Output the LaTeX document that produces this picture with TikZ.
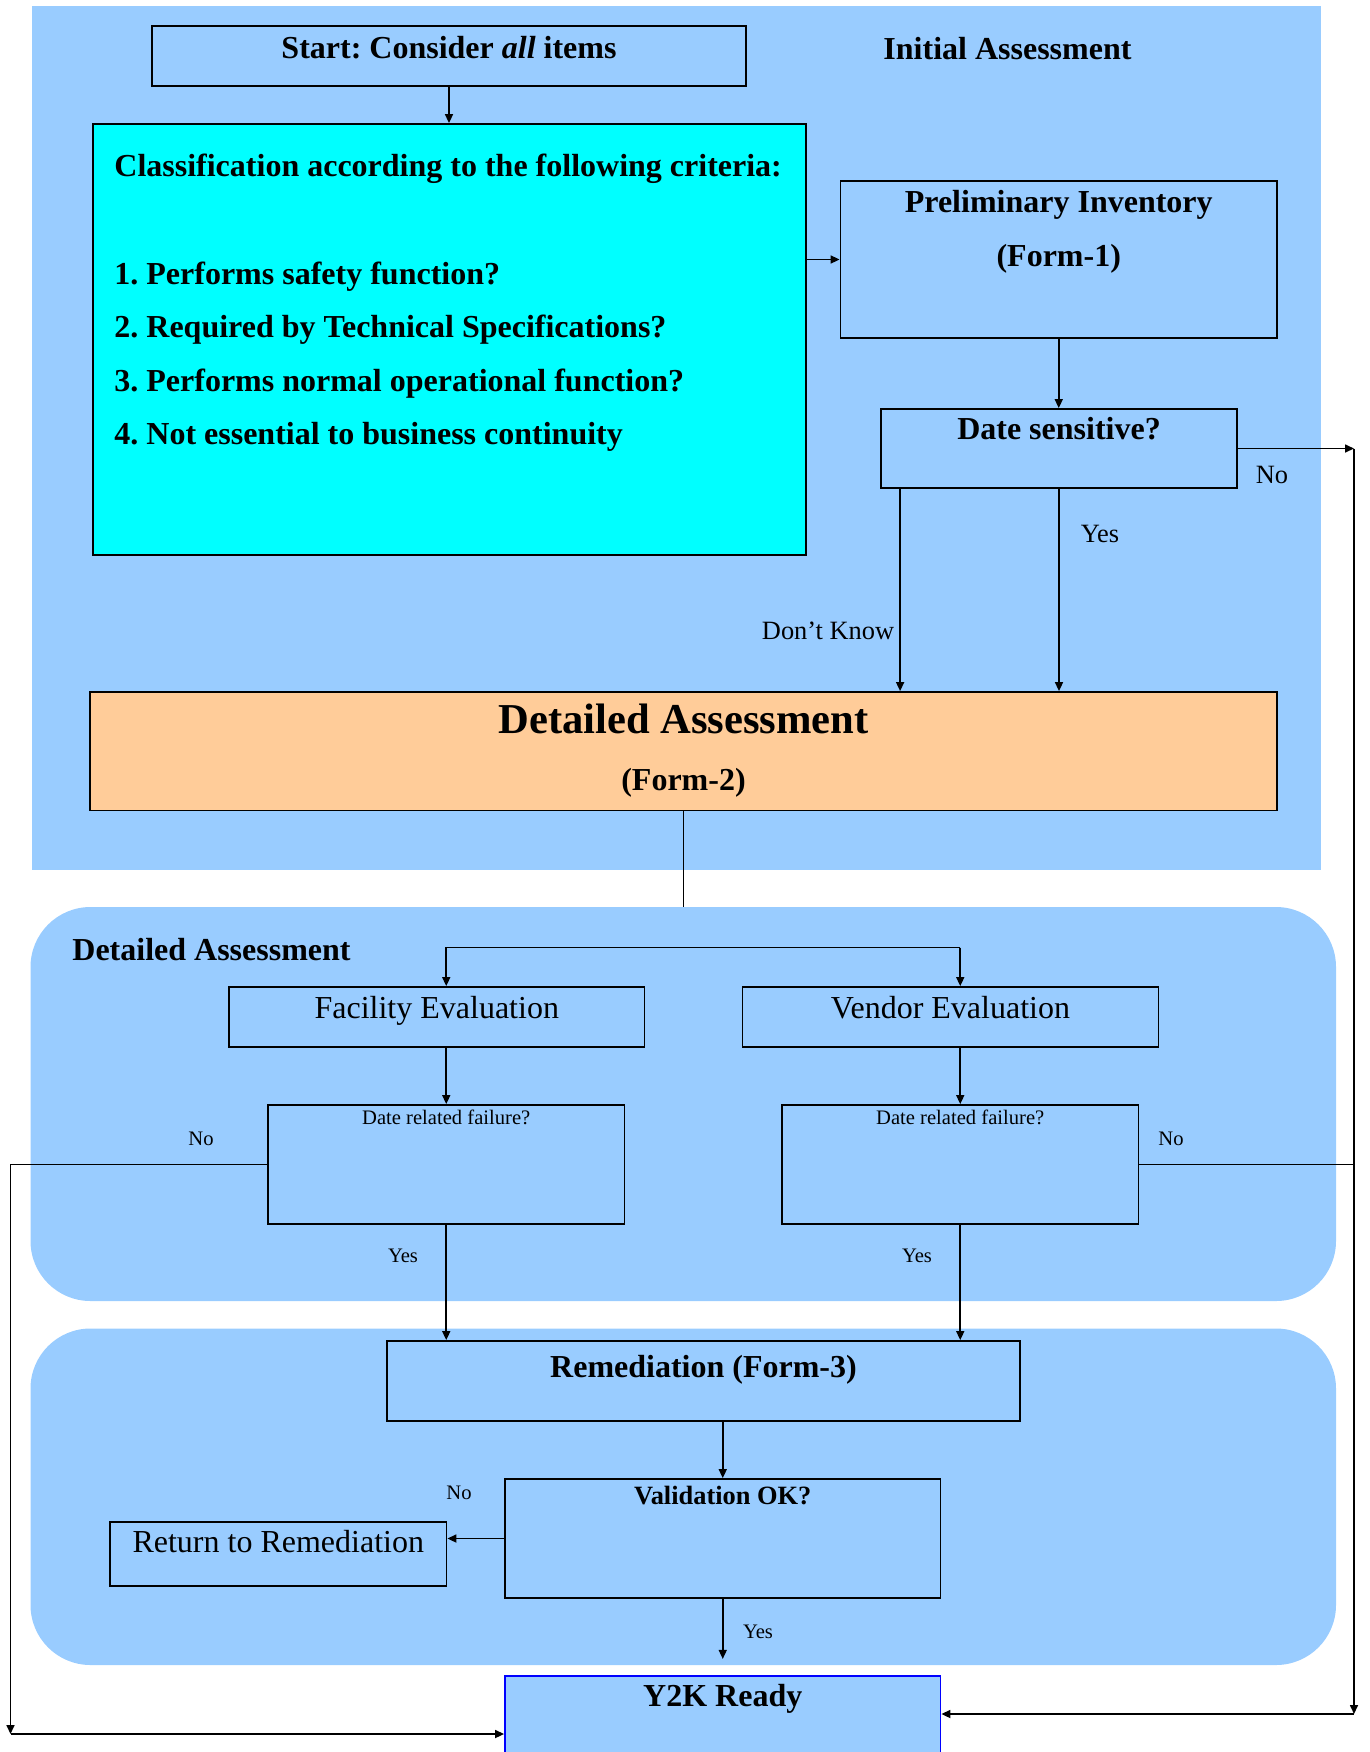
\documentclass[tikz,border=0pt]{standalone}
\usepackage{fontspec}
\setmainfont{Liberation Serif}
\usepackage{tikz}
\usetikzlibrary{arrows.meta}
\frenchspacing

\definecolor{panelblue}{HTML}{99CCFF}
\definecolor{critcyan}{HTML}{00FFFF}
\definecolor{formorange}{HTML}{FFCC99}
\definecolor{readyblue}{HTML}{0000FF}

\begin{document}
\begin{tikzpicture}[
    x=0.5pt,
    y=-0.5pt,
    >={Triangle[length=4.5pt,width=4pt]},
    line width=0.8pt,
    box/.style={draw, fill=panelblue, inner sep=0pt, line width=0.9pt},
    inlabel/.style={anchor=base, inner sep=0pt},
    freetext/.style={inner sep=0pt},
    bftext/.style={font=\fontsize{16}{19}\selectfont\bfseries},
    rmtext/.style={font=\fontsize{16}{19}\selectfont},
    midtext/.style={font=\fontsize{13.2}{16}\selectfont},
    smalltext/.style={font=\fontsize{10.3}{12}\selectfont},
    hugetext/.style={font=\fontsize{21.3}{25}\selectfont\bfseries}
]

\useasboundingbox (0,0) rectangle (1370,1752);
\clip (0,0) rectangle (1370,1752);

%------------------------------------------------------------
% Panels
%------------------------------------------------------------

\fill[panelblue]
(32,6) rectangle (1321,870);

\fill[panelblue,rounded corners=30pt]
(30.5,907) rectangle (1336,1301);

\fill[panelblue,rounded corners=30pt]
(30.5,1328.5) rectangle (1336,1665);

%------------------------------------------------------------
% Initial assessment
%------------------------------------------------------------

\node[bftext,freetext,anchor=base]
(initial) at (1007.5,59.3)
{Initial Assessment};

\node[
    box,
    minimum width=297pt,
    minimum height=30pt,
    label={[inlabel,bftext,yshift=-16.75pt]north:{Start: Consider \textit{all} items}}
]
(start) at (449,56) {};

\node[
    box,
    fill=critcyan,
    minimum width=356.5pt,
    minimum height=215.5pt
]
(class) at (449.5,339.5) {};

% criteria
\node[bftext,freetext,anchor=base west]
(crit0) at (113.6,176)
{Classification according to the following criteria:};

\node[bftext,freetext,anchor=base west]
(crit1) at (113.6,284)
{1. Performs safety function?};

\node[bftext,freetext,anchor=base west]
(crit2) at (113.6,337.5)
{2. Required by Technical Specifications?};

\node[bftext,freetext,anchor=base west]
(crit3) at (113.6,391)
{3. Performs normal operational function?};

\node[bftext,freetext,anchor=base west]
(crit4) at (113.6,444.7)
{4. Not essential to business continuity};

\node[
    box,
    minimum width=218.25pt,
    minimum height=78.5pt,
    label={[inlabel,bftext,yshift=-16pt]north:{Preliminary Inventory}},
    label={[inlabel,bftext,yshift=-43pt]north:{(Form-1)}}
]
(prelim) at (1058.75,259.5) {};

\node[
    box,
    minimum width=178pt,
    minimum height=39.5pt,
    label={[inlabel,bftext,yshift=-15.85pt]north:{Date sensitive?}}
]
(ds) at (1059,448.5) {};

\node[
    box,
    fill=formorange,
    minimum width=593.5pt,
    minimum height=59.25pt,
    label={[inlabel,hugetext,yshift=-21pt]north:{Detailed Assessment}},
    label={[inlabel,bftext,yshift=-49.5pt]north:{(Form-2)}}
]
(da) at (683.5,751.25) {};

%------------------------------------------------------------
% Detailed assessment
%------------------------------------------------------------

\node[bftext,freetext,anchor=base west]
(detailed) at (71.6,960.5)
{Detailed Assessment};

\node[
    box,
    minimum width=207.75pt,
    minimum height=30pt,
    label={[inlabel,rmtext,yshift=-16pt]north:{Facility Evaluation}}
]
(fac) at (436.75,1017) {};

\node[
    box,
    minimum width=208pt,
    minimum height=30pt,
    label={[inlabel,rmtext,yshift=-16pt]north:{Vendor Evaluation}}
]
(ven) at (950.5,1017) {};

\node[
    box,
    minimum width=178.25pt,
    minimum height=59.5pt,
    label={[inlabel,smalltext,yshift=-10pt]north:{Date related failure?}}
]
(drfl) at (446.25,1164.5) {};

\node[
    box,
    minimum width=178.25pt,
    minimum height=59.5pt,
    label={[inlabel,smalltext,yshift=-10pt]north:{Date related failure?}}
]
(drfr) at (960.25,1164.5) {};

%------------------------------------------------------------
% Remediation
%------------------------------------------------------------

\node[
    box,
    minimum width=316.5pt,
    minimum height=40pt,
    label={[inlabel,bftext,yshift=-18.5pt]north:{Remediation (Form-3)}}
]
(rem) at (703.5,1381) {};

\node[
    box,
    minimum width=217.75pt,
    minimum height=59.5pt,
    label={[inlabel,font=\fontsize{13.2}{16}\selectfont\bfseries,yshift=-13.3pt]north:{Validation OK?}}
]
(val) at (722.75,1538.5) {};

\node[
    box,
    minimum width=168.25pt,
    minimum height=32pt,
    label={[inlabel,rmtext,yshift=-15.9pt]north:{Return to Remediation}}
]
(ret) at (278.25,1554) {};

\node[
    box,
    draw=readyblue,
    minimum width=217.75pt,
    minimum height=60pt,
    label={[inlabel,bftext,yshift=-15.5pt]north:{Y2K Ready}}
]
(y2k) at (722.75,1736) {};

%------------------------------------------------------------
% Branch labels
%------------------------------------------------------------

\node[midtext,freetext,anchor=base] (ds-no) at (1272,483.3) {No};
\node[midtext,freetext,anchor=base west] (ds-yes) at (1080,542.3) {Yes};
\node[midtext,freetext,anchor=base east] (ds-dk) at (895,639.3) {Don’t Know};

\node[smalltext,freetext,anchor=base] (fl-no) at (201,1145) {No};
\node[smalltext,freetext,anchor=base] (fr-no) at (1171,1145) {No};
\node[smalltext,freetext,anchor=base] (fl-yes) at (403,1262.7) {Yes};
\node[smalltext,freetext,anchor=base] (fr-yes) at (917,1262.7) {Yes};
\node[smalltext,freetext,anchor=base] (val-no) at (459,1499) {No};
\node[smalltext,freetext,anchor=base] (val-yes) at (758,1638) {Yes};

%------------------------------------------------------------
% Connectors
%------------------------------------------------------------

\coordinate (rtop) at (1354,448.5);
\coordinate (rbot) at (1354,1714);
\coordinate (lbot) at (10.5,1734);
\coordinate (split) at (703,947.5);
\coordinate (gap) at (0,907);
\coordinate (dk) at ([xshift=10pt]ds.south west);

\draw[->] (start.south) -- (start.south |- class.north);
\draw[->] (class.east |- prelim.west) -- (prelim.west);
\draw[->] (prelim.south) -- (prelim.south |- ds.north);

% date sensitive
\draw[->] (ds.east) -- (rtop);
\draw[->] (rtop) -- (rbot);
\draw[->] (rbot) -- (rbot -| y2k.east);
\draw[->] (ds.south) -- (ds.south |- da.north);
\draw[->] (dk) -- (dk |- da.north);

% evaluations
\draw (da.south) -- (da.south |- gap);
\draw[->] (split -| drfr.north) -- (split -| drfl.north) -- (drfl.north |- fac.north);
\draw[->] (split -| drfr.north) -- (drfr.north |- ven.north);
\draw[->] (drfl.north |- fac.south) -- (drfl.north);
\draw[->] (drfr.north |- ven.south) -- (drfr.north);

% failures
\draw[->] (drfl.west) -- (drfl.west -| lbot) -- (lbot);
\draw[->] (lbot) -- (lbot -| y2k.west);
\draw (drfr.east) -- (drfr.east -| rbot);
\draw[->] (drfl.south) -- (drfl.south |- rem.north);
\draw[->] (drfr.south) -- (drfr.south |- rem.north);

% validation
\draw[->] (rem.south -| val.north) -- (val.north);
\draw[->] (val.west) -- (val.west -| ret.east);
\draw[->] (val.south) -- ++(0,60);

\end{tikzpicture}
\end{document}
